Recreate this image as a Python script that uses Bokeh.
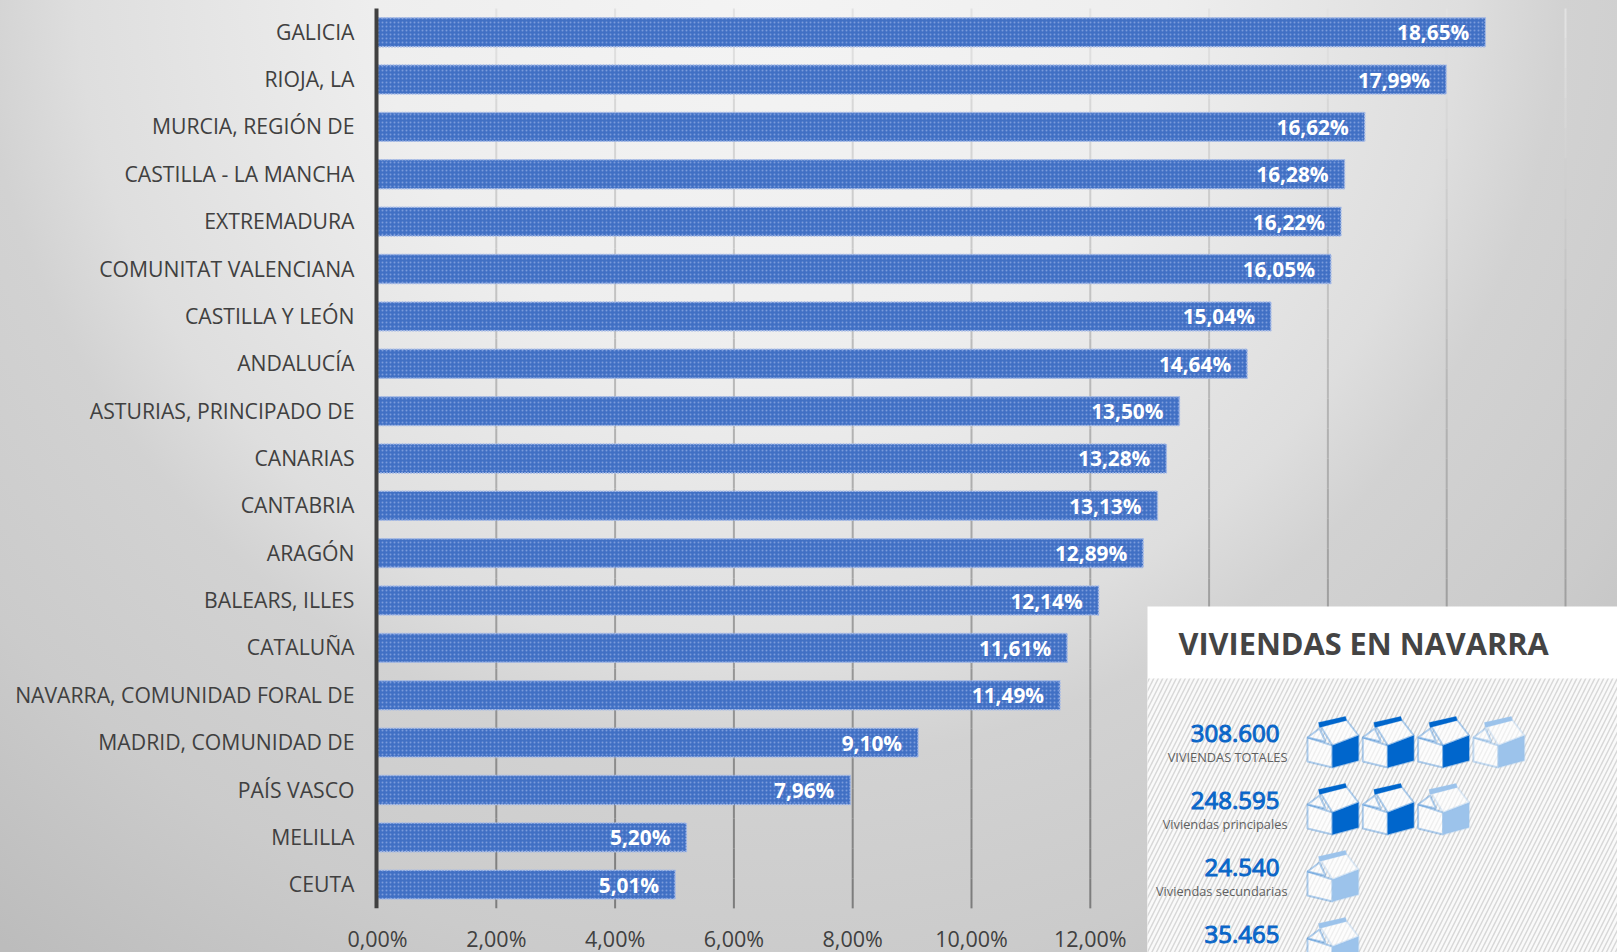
from bokeh.plotting import figure
from bokeh.embed import file_html
from bokeh.resources import INLINE
from bokeh.models import (ColumnDataSource, Range1d, FixedTicker, BoxAnnotation,
                          PolyAnnotation, Label)
from bokeh.core.properties import value

regions = ["GALICIA", "RIOJA, LA", "MURCIA, REGIÓN DE", "CASTILLA - LA MANCHA", "EXTREMADURA",
           "COMUNITAT VALENCIANA", "CASTILLA Y LEÓN", "ANDALUCÍA", "ASTURIAS, PRINCIPADO DE",
           "CANARIAS", "CANTABRIA", "ARAGÓN", "BALEARS, ILLES", "CATALUÑA",
           "NAVARRA, COMUNIDAD FORAL DE", "MADRID, COMUNIDAD DE", "PAÍS VASCO", "MELILLA", "CEUTA"]
percent = [18.65, 17.99, 16.62, 16.28, 16.22, 16.05, 15.04, 14.64, 13.50, 13.28, 13.13, 12.89,
           12.14, 11.61, 11.49, 9.10, 7.96, 5.20, 5.01]
tick_values = [0, 2, 4, 6, 8, 10, 12]
tick_labels = ["0,00%", "2,00%", "4,00%", "6,00%", "8,00%", "10,00%", "12,00%"]
grid_values = [2, 4, 6, 8, 10, 12, 14, 16, 18, 20]

inset_title = "VIVIENDAS EN NAVARRA"
inset_numbers = ["308.600", "248.595", "24.540", "35.465"]
inset_names = ["VIVIENDAS TOTALES", "Viviendas principales", "Viviendas secundarias", ""]
inset_full_houses = [3, 2, 0, 0]
inset_light_houses = [1, 1, 1, 1]

TEXT = "#404040"
FONT = "Open Sans"
W, H = 1617, 952
FRAME_L, FRAME_B = 340, 952
ZERO_X, PX_PER_PCT = 377, 59.4
PITCH, FIRST = 47.36, 31.7
n = len(regions)
rows = [n - 1 - i for i in range(n)]


def row_at(page_y):
    return n - 1 - (page_y - FIRST) / PITCH


p = figure(width=W, height=H, output_backend="svg", toolbar_location=None,
           x_range=Range1d((FRAME_L - ZERO_X) / PX_PER_PCT, (W - ZERO_X) / PX_PER_PCT),
           y_range=Range1d(row_at(FRAME_B), row_at(0)),
           min_border_left=FRAME_L, min_border_right=0, min_border_top=0, min_border_bottom=0,
           outline_line_color=None, background_fill_color=None, border_fill_color=None)
p.styles = {
    "background": "radial-gradient(circle 1240px at 770px -30px, #f4f4f4 0%, #eeeeee 32%, #dedede 56%, "
                  "#d2d2d2 64%, #cbcbcb 81%, #bcbcbc 100%)",
}
p.grid.visible = False

# gridlines that darken downwards
bands = 30
gx, gy0, gy1, gc = [], [], [], []
for g in grid_values:
    for i in range(bands):
        t = i / bands
        c = int(226 - (226 - 122) * t)
        gx.append(g)
        gy0.append(n - 0.5 - n * t)
        gy1.append(n - 0.5 - n * (i + 1) / bands)
        gc.append("#%02x%02x%02x" % (c, c, c))
p.segment(x0="x", x1="x", y0="y0", y1="y1", color="c", line_width=2,
          source=ColumnDataSource(dict(x=gx, y0=gy0, y1=gy1, c=gc)))

src = ColumnDataSource(dict(row=rows, pct=percent, lab=[f"{v:.2f}".replace(".", ",") + "%" for v in percent]))
p.hbar(y="row", left=0, right="pct", height=0.61, source=src, fill_color="#4170c4",
       line_color="#a4b9e6", line_width=1.5, line_dash="2 1",
       hatch_pattern="dot", hatch_color="#7b9bdb", hatch_scale=4, hatch_weight=1.2)
p.text(x="pct", y="row", text="lab", source=src, text_color="white", text_align="right",
       text_baseline="middle", x_offset=-16, y_offset=0, text_font=value(FONT),
       text_font_style="bold", text_font_size="20.8px")

# the category axis line at zero
p.segment(x0=[-1 / PX_PER_PCT], x1=[-1 / PX_PER_PCT], y0=[-0.5], y1=[n - 0.5], color=TEXT, line_width=4)

xa = p.xaxis[0]
xa.ticker = FixedTicker(ticks=tick_values)
xa.major_label_overrides = {v: s for v, s in zip(tick_values, tick_labels)}
xa.axis_line_color = None
xa.major_tick_line_color = None
xa.major_tick_in = 0
xa.major_tick_out = 0
xa.minor_tick_line_color = None
xa.major_label_text_font = FONT
xa.major_label_text_font_size = "21.5px"
xa.major_label_text_color = TEXT
xa.fixed_location = row_at(954)
xa.major_label_standoff = -31

ya = p.yaxis[0]
label_rows = [r + 0.02 for r in rows]
ya.ticker = FixedTicker(ticks=label_rows)
ya.major_label_overrides = {r: s for r, s in zip(label_rows, regions)}
ya.axis_line_color = None
ya.major_tick_line_color = None
ya.major_tick_in = 0
ya.major_tick_out = 0
ya.minor_tick_line_color = None
ya.major_label_text_font = FONT
ya.major_label_text_font_size = "21.2px"
ya.major_label_text_color = TEXT
ya.major_label_standoff = -14


def sx(v):
    return v - FRAME_L


def sy(v):
    return FRAME_B - v


BLUE = "#0066cc"
LIGHT = "#9cc3eb"

p.add_layout(BoxAnnotation(left=sx(1147), right=sx(W), top=sy(606), bottom=sy(H), left_units="screen",
                           right_units="screen", top_units="screen", bottom_units="screen",
                           fill_color="white", fill_alpha=1, line_color=None, level="overlay"))
p.add_layout(BoxAnnotation(left=sx(1147), right=sx(W), top=sy(678), bottom=sy(H), left_units="screen",
                           right_units="screen", top_units="screen", bottom_units="screen",
                           fill_color="#fafafa", fill_alpha=1, line_color=None, level="overlay",
                           hatch_pattern="right_diagonal_line", hatch_color="#d8d8d8",
                           hatch_scale=9, hatch_weight=1.5, hatch_alpha=1))
p.add_layout(Label(x=sx(1178), y=sy(642), x_units="screen", y_units="screen", text=inset_title,
                   text_font=FONT, text_font_style="bold", text_font_size="30.7px",
                   text_color="#444444", text_baseline="middle", level="overlay"))


def poly(xs, ys, fill, line, lw=2.0, alpha=1.0):
    p.add_layout(PolyAnnotation(xs=xs, ys=ys, xs_units="screen", ys_units="screen", fill_color=fill,
                                fill_alpha=alpha, line_color=line, line_width=lw,
                                level="overlay"))


def house(x0, y0, right_fill, main, roof_right):
    pts = lambda q: ([sx(x0 + a) for a, b in q], [sy(y0 + b) for a, b in q])
    # left wall, right wall, roof, gable, ridge band
    poly(*pts([(1, 21), (26, 29), (26, 51), (1, 45)]), "white", main, alpha=0.6)
    poly(*pts([(26, 29), (52, 19), (52, 44), (26, 51)]), right_fill, roof_right)
    poly(*pts([(26, 29), (52, 19), (38, 1), (13, 8)]), "white", roof_right, alpha=0.6)
    poly(*pts([(1, 21), (13, 12), (19, 25)]), "white", main, alpha=0.6)
    poly(*pts([(12, 6), (39, 0), (40, 4), (13, 11)]), roof_right, roof_right, 1)


for r, (num, name, full, light) in enumerate(zip(inset_numbers, inset_names, inset_full_houses, inset_light_houses)):
    cy = 733 + 67 * r
    p.add_layout(Label(x=sx(1279), y=sy(cy), x_units="screen", y_units="screen", text=num,
                       text_font=FONT, text_font_size="24px", text_color="#0a66c8", text_align="right",
                       text_baseline="middle", level="overlay", text_outline_color="#0a66c8"))
    if name:
        p.add_layout(Label(x=sx(1287), y=sy(cy + 23), x_units="screen", y_units="screen", text=name,
                           text_font=FONT, text_font_size="12.8px", text_color="#606060", text_align="right",
                           text_baseline="middle", level="overlay"))
    for h in range(full + light):
        is_full = h < full
        main = BLUE if (is_full or r > 0) else "#4d94de"
        house(1306 + 55.3 * h, 716 + 67 * r, BLUE if is_full else LIGHT, main, BLUE if is_full else LIGHT)

open("out.html", "w").write(file_html(p, INLINE))
